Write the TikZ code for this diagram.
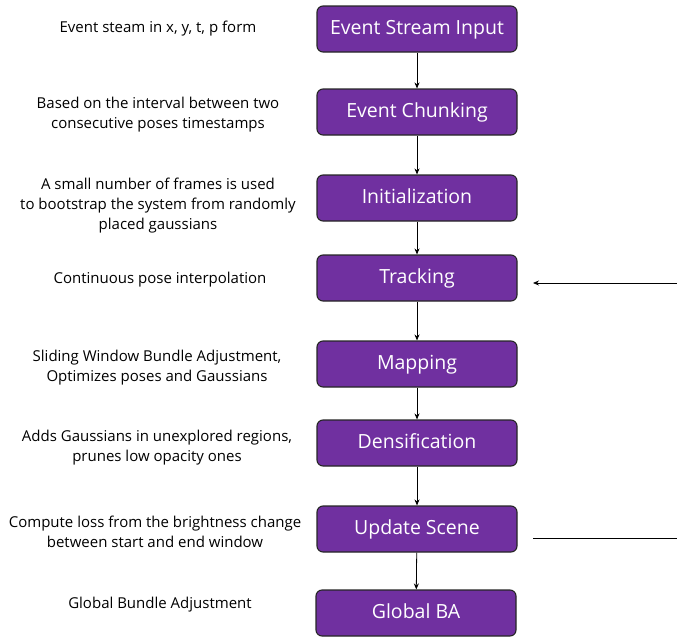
\documentclass[tikz,border=0pt]{standalone}
\usepackage{fontspec}
\setmainfont{Open Sans}
\usetikzlibrary{arrows.meta}
\definecolor{stagepurple}{HTML}{7030A0}
\tikzset{
    stage/.style={draw=black!85, line width=1.1pt, fill=stagepurple, rounded corners=6pt,
        minimum width=200pt, minimum height=46pt, text=white,
        text height=14pt, text depth=3pt,
        font=\fontsize{19.5}{22}\selectfont},
    note/.style={align=center, yshift=-2pt, font=\fontsize{15}{20}\selectfont},
    flow/.style={thick, -{Stealth[length=6pt, width=5pt]}}
}
\begin{document}
\begin{tikzpicture}[
    x=1pt,
    y=-1pt
]
\useasboundingbox (0,0) rectangle (677,637);

% Pipeline stages
\node[stage] (input) at (417, 29) {Event Stream Input};
\node[stage] (chunk) at (417, 112) {Event Chunking};
\node[stage] (init) at (417, 198) {Initialization};
\node[stage] (track) at (417, 278) {Tracking};
\node[stage] (map) at (417, 364) {Mapping};
\node[stage] (dens) at (417, 443) {Densification};
\node[stage] (update) at (417, 529) {Update Scene};
\node[stage] (global) at (416, 613) {Global BA};

% Stage descriptions
\node[note] (n1) at (158, 27) {Event steam in x, y, t, p form};
\node[note] (n2) at (158, 113) {Based on the interval between two\\consecutive poses timestamps};
\node[note] (n3) at (158, 204) {A small number of frames is used\\to bootstrap the system from randomly\\placed gaussians};
\node[note] (n4) at (160, 278) {Continuous pose interpolation};
\node[note] (n5) at (157, 366) {Sliding Window Bundle Adjustment,\\Optimizes poses and Gaussians};
\node[note] (n6) at (157, 446) {Adds Gaussians in unexplored regions,\\prunes low opacity ones};
\node[note] (n7) at (155, 530) {Compute loss from the brightness change\\between start and end window};
\node[note] (n8) at (160, 603) {Global Bundle Adjustment};

% Flow
\draw[flow] (input) -- (chunk);
\draw[flow] (chunk) -- (init);
\draw[flow] (init) -- (track);
\draw[flow] (track) -- (map);
\draw[flow] (map) -- (dens);
\draw[flow] (dens) -- (update);
\draw[flow] (update) -- (global);

% Loop lines on the right
\coordinate (loopin) at (677, 283);
\coordinate (loophead) at (533, 283);
\draw[flow] (loopin) -- (loophead);

\coordinate (loopout) at (533, 538);
\coordinate (loopend) at (677, 538);
\draw[thick] (loopout) -- (loopend);

\end{tikzpicture}
\end{document}
